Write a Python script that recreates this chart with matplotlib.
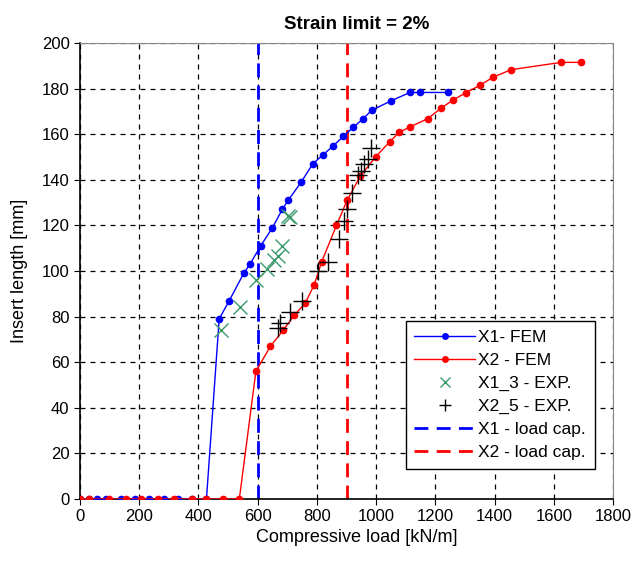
import matplotlib
matplotlib.use("Agg")
import matplotlib.pyplot as plt

plt.rcParams['font.family'] = ['Liberation Sans', 'DejaVu Sans']

# X1 - FEM
x1_load = [0, 30, 56, 87, 137, 186, 234, 284, 332, 377, 427, 470, 504, 553, 574,
           610, 650, 683, 703, 747, 786, 821, 856, 889, 922, 954, 985, 1050,
           1114, 1147, 1244]
x1_len = [0, 0, 0, 0, 0, 0, 0, 0, 0, 0, 0, 79, 87, 99, 103,
          111, 119, 127, 131, 139, 147, 151, 155, 159, 163, 166.5, 170.5, 174.6,
          178.3, 178.3, 178.3]

# X2 - FEM
x2_load = [0, 30, 98, 154, 206, 264, 318, 377, 427, 484, 538, 594, 643, 686,
           723, 761, 791, 816, 866, 902, 946, 998, 1046, 1078, 1116, 1174, 1220,
           1260, 1303, 1350, 1395, 1456, 1625, 1693]
x2_len = [0, 0, 0, 0, 0, 0, 0, 0, 0, 0, 0, 56, 67, 74,
          80.5, 86, 94, 104, 120, 131, 141.5, 150, 156.7, 160.8, 163.3, 166.8, 171.5,
          175, 178.2, 181.4, 185, 188.3, 191.5, 191.5]

# X1_3 - EXP.
x1_exp_load = [475, 540, 593, 630, 655, 668, 683, 703, 708]
x1_exp_len = [74, 84, 96, 101, 105, 106.5, 111, 124, 123.5]

# X2_5 - EXP.
x2_exp_load = [667, 676, 709, 750, 802, 838, 875, 892, 900, 917, 939, 948, 960, 973, 984]
x2_exp_len = [75, 77, 82, 87, 100, 104, 114, 122, 127, 134, 142, 144, 147, 149, 154]

# load capacities
x1_cap = 600
x2_cap = 900

fig = plt.figure(figsize=(6.32, 5.62), dpi=100)
ax = fig.add_axes([0.1266, 0.1121, 0.8434, 0.8114])

ax.plot(x1_load, x1_len, '-o', color='#0000ff', lw=1, ms=4.5, label='X1- FEM', zorder=3)
ax.plot(x2_load, x2_len, '-o', color='#ff0000', lw=1, ms=4.5, label='X2 - FEM', zorder=3)
ax.plot(x1_exp_load, x1_exp_len, 'x', color='#3a9a6a', ms=10, mew=1, label='X1_3 - EXP.', zorder=4)
ax.plot(x2_exp_load, x2_exp_len, '+', color='black', ms=13, mew=1, label='X2_5 - EXP.', zorder=4)
ax.axvline(x1_cap, color='#0000ff', lw=2, ls=(0, (5, 3)), label='X1 - load cap.', zorder=2)
ax.axvline(x2_cap, color='#ff0000', lw=2, ls=(0, (5, 3)), label='X2 - load cap.', zorder=2)

ax.set_xlim(0, 1800)
ax.set_ylim(0, 200)
ax.set_xticks(range(0, 1801, 200))
ax.set_yticks(range(0, 201, 20))
ax.grid(True, color='black', ls=(0, (4, 4)), lw=0.9)
ax.set_axisbelow(True)

for s in ['top', 'right']:
    ax.spines[s].set_color('#888888')
for s in ['left', 'bottom']:
    ax.spines[s].set_color('black')
    ax.spines[s].set_linewidth(1.2)
ax.tick_params(direction='out', length=4, labelsize=12)

ax.set_title('Strain limit = 2%', fontsize=13.5, fontweight='bold', pad=10, x=0.52)
ax.set_xlabel('Compressive load [kN/m]', fontsize=13, labelpad=2)
ax.xaxis.set_label_coords(0.52, -0.065)
ax.set_ylabel('Insert length [mm]', fontsize=13, labelpad=10)

leg = ax.legend(loc='lower right', bbox_to_anchor=(0.966, 0.066), fontsize=12.5,
                fancybox=False, edgecolor='black', framealpha=1,
                handlelength=3.5, borderpad=0.5, borderaxespad=0,
                labelspacing=0.45, handletextpad=0.2)
leg.get_frame().set_linewidth(1)
leg.legend_handles[0].set_markersize(4)
leg.legend_handles[1].set_markersize(4)
leg.legend_handles[2].set_markersize(7)
leg.legend_handles[3].set_markersize(8)

fig.savefig('out.png', dpi=100)
